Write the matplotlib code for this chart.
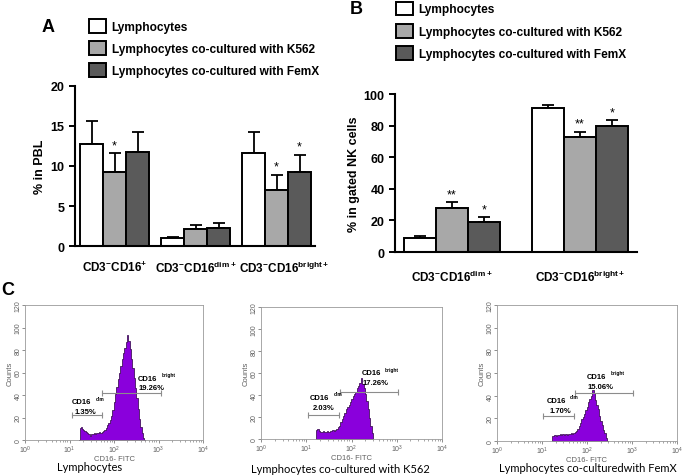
import numpy as np
import matplotlib.pyplot as plt
from matplotlib.transforms import ScaledTranslation

plt.rcParams['font.family'] = ['Liberation Sans', 'DejaVu Sans']
plt.rcParams['mathtext.fontset'] = 'custom'
plt.rcParams['mathtext.rm'] = 'Liberation Sans'
plt.rcParams['mathtext.bf'] = 'Liberation Sans:bold'

# ---- data ----
series = ['Lymphocytes', 'Lymphocytes co-cultured with K562', 'Lymphocytes co-cultured with FemX']
bar_colors = ['white', '#a8a8a8', '#5a5a5a']

groups_A = [r'CD3$^{\mathbf{-}}$CD16$^{\mathbf{+}}$',
            r'CD3$^{\mathbf{-}}$CD16$^{\mathbf{dim+}}$',
            r'CD3$^{\mathbf{-}}$CD16$^{\mathbf{bright+}}$']
mean_A = [[12.8, 1.0, 11.6],   # Lymphocytes
          [9.3, 2.1, 7.0],     # + K562
          [11.8, 2.3, 9.3]]    # + FemX
err_A = [[2.8, 0.1, 2.6],
         [2.3, 0.5, 1.9],
         [2.5, 0.6, 2.1]]
stars_A = [['', '', ''], ['*', '', '*'], ['', '', '*']]

groups_B = [r'CD3$^{\mathbf{-}}$CD16$^{\mathbf{dim+}}$',
            r'CD3$^{\mathbf{-}}$CD16$^{\mathbf{bright+}}$']
mean_B = [[8.7, 91.2],
          [27.9, 72.6],
          [19.0, 79.8]]
err_B = [[1.6, 1.8],
         [3.5, 3.5],
         [3.0, 3.6]]
stars_B = [['', ''], ['**', '**'], ['*', '*']]

# flow cytometry histograms: log10(CD16-FITC) channel vs counts
hist_titles = ['Lymphocytes', 'Lymphocytes co-cultured with K562', 'Lymphocytes co-culturedwith FemX']
h1_log = [1.22, 1.24, 1.26, 1.29, 1.32, 1.35, 1.38, 1.41, 1.44, 1.47, 1.50, 1.53, 1.56, 1.59, 1.62,
          1.65, 1.68, 1.71, 1.74, 1.77, 1.80, 1.83, 1.86, 1.89, 1.92, 1.95, 1.98, 2.01, 2.04, 2.07,
          2.10, 2.13, 2.16, 2.19, 2.22, 2.25, 2.28, 2.31, 2.34, 2.37, 2.40, 2.43, 2.46, 2.49, 2.52,
          2.55, 2.58, 2.61, 2.64, 2.67, 2.70]
h1_cnt = [0, 11, 12, 10, 9, 8, 7, 6, 5, 4, 5, 5, 6, 5, 6,
          6, 7, 6, 7, 8, 9, 11, 13, 15, 18, 21, 27, 34, 41, 47,
          54, 60, 66, 72, 77, 82, 87, 93, 88, 81, 72, 64, 55, 46, 37,
          28, 19, 12, 6, 2, 0]
h2_log = [1.21, 1.23, 1.26, 1.29, 1.32, 1.35, 1.38, 1.41, 1.44, 1.47, 1.50, 1.53, 1.56, 1.59, 1.62,
          1.65, 1.68, 1.71, 1.74, 1.77, 1.80, 1.83, 1.86, 1.89, 1.92, 1.95, 1.98, 2.01, 2.04, 2.07,
          2.10, 2.13, 2.16, 2.19, 2.22, 2.25, 2.28, 2.31, 2.34, 2.37, 2.40, 2.43, 2.46, 2.48]
h2_cnt = [0, 8, 9, 7, 6, 6, 7, 6, 6, 7, 6, 7, 7, 8, 7,
          8, 9, 11, 12, 15, 18, 21, 24, 27, 29, 31, 34, 36, 39, 41,
          43, 46, 48, 51, 55, 50, 46, 41, 35, 27, 19, 12, 5, 0]
h3_log = [1.22, 1.24, 1.26, 1.29, 1.32, 1.35, 1.38, 1.41, 1.44, 1.47, 1.50, 1.53, 1.56, 1.59, 1.62,
          1.65, 1.68, 1.71, 1.74, 1.77, 1.80, 1.83, 1.86, 1.89, 1.92, 1.95, 1.98, 2.01, 2.04, 2.07,
          2.10, 2.13, 2.16, 2.19, 2.22, 2.25, 2.28, 2.31, 2.34, 2.37, 2.40, 2.43, 2.46]
h3_cnt = [0, 4, 4, 5, 4, 5, 5, 6, 5, 6, 5, 6, 5, 6, 6,
          7, 6, 7, 8, 9, 11, 13, 16, 19, 21, 24, 27, 30, 34, 37,
          40, 45, 42, 36, 32, 28, 22, 18, 14, 10, 7, 3, 0]
hist_logs = [h1_log, h2_log, h3_log]
hist_cnts = [h1_cnt, h2_cnt, h3_cnt]
dim_pct = ['1.35%', '2.03%', '1.70%']
bright_pct = ['19.26%', '17.26%', '15.06%']
dim_gate = [(1.05, 1.72, 22), (1.03, 1.73, 22), (1.03, 1.71, 22)]
bright_gate = [(1.74, 3.06, 42), (1.75, 3.03, 43), (1.74, 3.03, 42)]
dim_txt = [(1.05, 34), (1.08, 38), (1.10, 36)]
bright_txt = [(2.53, 55), (2.22, 60), (1.99, 57)]

fig = plt.figure(figsize=(6.85, 4.77), dpi=100)


def px(l, t, r, b):
    return [l / 685, 1 - b / 477, (r - l) / 685, (b - t) / 477]


def bar_panel(ax, groups, means, errs, stars, w, ylim, yticks, ylabel, labelpad):
    x = np.arange(len(groups))
    for i in range(3):
        xi = x + (i - 1) * w
        ax.bar(xi, means[i], w, color=bar_colors[i], edgecolor='black', linewidth=1.4,
               label=series[i], zorder=2)
        ax.errorbar(xi, means[i], yerr=[np.zeros(len(groups)), errs[i]], fmt='none',
                    ecolor='black', elinewidth=1.3, capsize=4, capthick=1.3, zorder=1)
        for j in range(len(groups)):
            if stars[i][j]:
                ax.annotate(stars[i][j], (xi[j], means[i][j] + errs[i][j]), xytext=(0, 1.5),
                            textcoords='offset points', ha='center', va='bottom', fontsize=9)
    ax.set_ylim(*ylim)
    ax.set_yticks(yticks)
    ax.set_xticks(x)
    ax.set_xticklabels(groups, fontweight='bold', fontsize=8.5)
    ax.tick_params(axis='x', length=0, pad=labelpad)
    ax.tick_params(axis='y', length=4, width=1.4, labelsize=9)
    for t in ax.get_yticklabels():
        t.set_fontweight('bold')
    for s in ['top', 'right']:
        ax.spines[s].set_visible(False)
    for s in ['left', 'bottom']:
        ax.spines[s].set_linewidth(1.5)
    ax.set_ylabel(ylabel, fontweight='bold', fontsize=9)


legend_kw = dict(loc='upper left', frameon=False, prop={'weight': 'bold', 'size': 8.6},
                 handlelength=1.45, handleheight=1.4, labelspacing=0.7, handletextpad=0.45,
                 borderpad=0, borderaxespad=0)

# ---- panel A ----
axA = fig.add_axes(px(75, 87, 315, 247))
bar_panel(axA, groups_A, mean_A, err_A, stars_A, 0.284, (0, 20), [0, 5, 10, 15, 20], '% in PBL', 10)
axA.set_xlim(-0.488, 2.475)
axA.yaxis.set_label_coords(-0.12, 0.5)
lab = axA.get_xticklabels()[2]
lab.set_transform(lab.get_transform() + ScaledTranslation(8 / 100, 0, fig.dpi_scale_trans))
hA, lA = axA.get_legend_handles_labels()
fig.legend(hA, lA, bbox_to_anchor=(89 / 685, 1 - 20 / 477), **legend_kw)
fig.text(48 / 685, 1 - 27 / 477, 'A', fontsize=13, fontweight='bold', ha='center', va='center')

# ---- panel B ----
axB = fig.add_axes(px(395, 95, 637, 253))
bar_panel(axB, groups_B, mean_B, err_B, stars_B, 0.25, (0, 100), [0, 20, 40, 60, 80, 100],
          '% in gated NK cells', 12)
axB.set_xlim(-0.445, 1.445)
axB.yaxis.set_label_coords(-0.145, 0.5)
hB, lB = axB.get_legend_handles_labels()
fig.legend(hB, lB, bbox_to_anchor=(396 / 685, 1 - 2.5 / 477), **legend_kw)
fig.text(356 / 685, 1 - 10 / 477, 'B', fontsize=13, fontweight='bold', ha='center', va='center')

# ---- panel C ----
fig.text(8 / 685, 1 - 291 / 477, 'C', fontsize=13, fontweight='bold', ha='center', va='center')
hist_boxes = [(25, 306, 203, 441), (261, 308, 442, 440), (497, 306, 677, 442)]
title_pos = [(90, 468), (340, 470), (588, 469)]
grey = '#606060'
for k in range(3):
    ax = fig.add_axes(px(*hist_boxes[k]))
    xs = 10 ** np.array(hist_logs[k])
    ax.fill_between(xs, hist_cnts[k], step='mid', color='#8a00dc', edgecolor='#2a0040',
                    linewidth=0.5, zorder=2)
    ax.set_xscale('log')
    ax.set_xlim(1, 1e4)
    ax.set_ylim(0, 120)
    ax.set_yticks(range(0, 121, 20))
    ax.tick_params(labelsize=5, colors=grey, length=2, width=0.5, pad=0.5)
    ax.tick_params(axis='x', which='minor', length=1.2, width=0.4, colors=grey)
    for t in ax.get_yticklabels():
        t.set_rotation(90)
        t.set_va('center')
    for s in ax.spines.values():
        s.set_color('#9a9a9a')
        s.set_linewidth(0.6)
    ax.set_xlabel('CD16- FITC', fontsize=5.5, color=grey, labelpad=0.5)
    ax.set_ylabel('Counts', fontsize=5.5, color=grey, labelpad=1)

    # gates
    d0, d1, dy = dim_gate[k]
    b0, b1, by = bright_gate[k]
    for g0, g1, gy in [(d0, d1, dy), (b0, b1, by)]:
        ax.plot([10 ** g0, 10 ** g1], [gy, gy], color='#8c8c8c', lw=0.8, marker='|',
                markersize=4, markeredgewidth=0.8, zorder=3)
    tx, ty = dim_txt[k]
    ax.text(10 ** tx, ty, 'CD16', fontsize=5.5, fontweight='bold', ha='left', va='center')
    ax.annotate('dim', (10 ** tx, ty), xytext=(17, 2.5), textcoords='offset points',
                fontsize=3.5, fontweight='bold', va='center')
    ax.text(10 ** (tx + 0.06), ty - 9, dim_pct[k], fontsize=5.5, fontweight='bold',
            ha='left', va='center')
    tx, ty = bright_txt[k]
    ax.text(10 ** tx, ty, 'CD16', fontsize=5.5, fontweight='bold', ha='left', va='center')
    ax.annotate('bright', (10 ** tx, ty), xytext=(17, 2.5), textcoords='offset points',
                fontsize=3.5, fontweight='bold', va='center')
    ax.text(10 ** (tx + 0.02), ty - 8.5, bright_pct[k], fontsize=5.5, fontweight='bold',
            ha='left', va='center')

    fig.text(title_pos[k][0] / 685, 1 - title_pos[k][1] / 477, hist_titles[k],
             family=['Lato', 'DejaVu Sans'], fontsize=8, ha='center', va='center')

fig.savefig('out.png', dpi=100)
